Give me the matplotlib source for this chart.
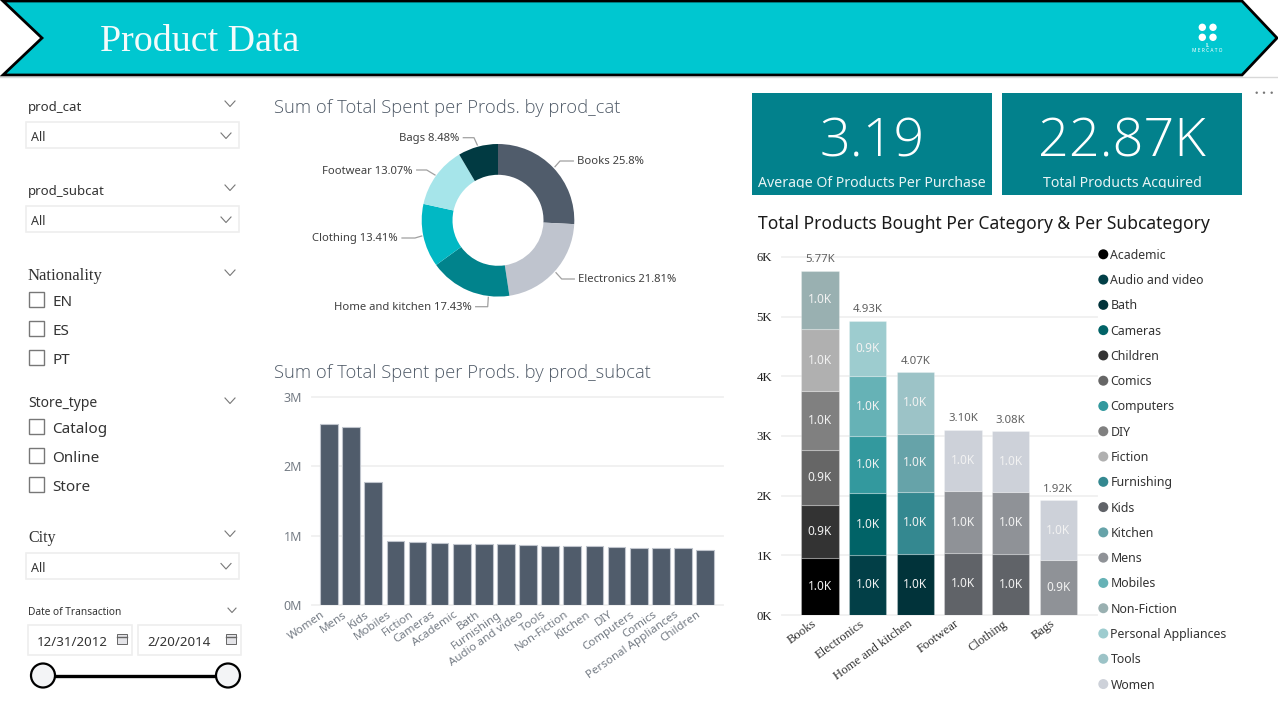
import matplotlib
matplotlib.use("Agg")
import matplotlib.pyplot as plt
from matplotlib.patches import Circle, Polygon, Rectangle
from matplotlib.transforms import ScaledTranslation

W, H = 1278, 717
SANS = ["Noto Sans", "DejaVu Sans"]
SERIF = "Liberation Serif"
plt.rcParams["font.family"] = SANS

# donut
pie_cats = ["Books", "Electronics", "Home and kitchen", "Clothing", "Footwear", "Bags"]
pie_pct = [25.8, 21.81, 17.43, 13.41, 13.07, 8.48]
pie_colors = ["#505c6b", "#bfc4ce", "#01838c", "#01b8c4", "#a6e5ea", "#013a42"]

# spend per subcategory
sub_names = ["Women", "Mens", "Kids", "Mobiles", "Fiction", "Cameras", "Academic", "Bath",
             "Furnishing", "Audio and video", "Tools", "Non-Fiction", "Kitchen", "DIY",
             "Computers", "Comics", "Personal Appliances", "Children"]
sub_spent = [2.606, 2.57, 1.77, 0.918, 0.915, 0.90, 0.885, 0.88, 0.875, 0.865,
             0.855, 0.855, 0.85, 0.84, 0.825, 0.82, 0.815, 0.80]

# stacked bars, bottom to top
stack_cats = ["Books", "Electronics", "Home and kitchen", "Footwear", "Clothing", "Bags"]
books_subs = ["Academic", "Children", "Comics", "DIY", "Fiction", "Non-Fiction"]
books_vals = [0.96, 0.88, 0.93, 0.98, 1.04, 0.98]
electronics_subs = ["Audio and video", "Cameras", "Computers", "Mobiles", "Personal Appliances"]
electronics_vals = [1.01, 1.03, 0.96, 1.00, 0.93]
home_subs = ["Bath", "Furnishing", "Kitchen", "Tools"]
home_vals = [1.03, 1.03, 0.98, 1.03]
footwear_subs = ["Kids", "Mens", "Women"]
footwear_vals = [1.04, 1.03, 1.03]
clothing_subs = ["Kids", "Mens", "Women"]
clothing_vals = [1.03, 1.03, 1.02]
bags_subs = ["Mens", "Women"]
bags_vals = [0.92, 1.00]

legend_names = ["Academic", "Audio and video", "Bath", "Cameras", "Children", "Comics",
                "Computers", "DIY", "Fiction", "Furnishing", "Kids", "Kitchen", "Mens",
                "Mobiles", "Non-Fiction", "Personal Appliances", "Tools", "Women"]
legend_colors = ["#000000", "#023f47", "#01333a", "#016367", "#333333", "#666666",
                 "#33999e", "#808080", "#b0b0b0", "#348890", "#606368", "#66a3a9",
                 "#8f9297", "#66b2b6", "#99b0b1", "#9dcccf", "#9cc3c7", "#cdd1d9"]

stack_subs = [books_subs, electronics_subs, home_subs, footwear_subs, clothing_subs, bags_subs]
stack_vals = [books_vals, electronics_vals, home_vals, footwear_vals, clothing_vals, bags_vals]
sub_color = dict(zip(legend_names, legend_colors))


def px_axes(left, top, right, bottom):
    return fig.add_axes([left / W, 1 - bottom / H, (right - left) / W, (bottom - top) / H])


def chevron(x, y, size=5.0):
    bg.plot([x - size, x, x + size], [y - size * 0.6, y + size * 0.5, y - size * 0.6],
            color="#777777", lw=0.8)


def box(x0, y0, x1, y1, edge="#eeeeee", lw=1.2):
    bg.add_patch(Rectangle((x0, y0), x1 - x0, y1 - y0, fc="white", ec=edge, lw=lw))


fig = plt.figure(figsize=(W / 100, H / 100), dpi=100, facecolor="white")
bg = fig.add_axes([0, 0, 1, 1])
bg.set_xlim(0, W)
bg.set_ylim(H, 0)
bg.axis("off")

# banner
bg.plot([0, W], [77, 77], color="#d8d8d8", lw=1)
bg.add_patch(Polygon([(3, 1), (1242, 1), (1277, 38), (1242, 75), (3, 75), (42, 38)],
                     closed=True, fc="#00c7d0", ec="black", lw=2))
bg.text(100, 41.5, "Product Data", color="#f4fbfb", fontsize=27.3, family=SERIF, va="center")
for lx in [1202.3, 1213]:
    for ly in [27.3, 37.3]:
        bg.add_patch(Circle((lx, ly), 3.7, fc="white", ec="none"))
bg.text(1207.5, 45.5, "IL", color="white", fontsize=3.5, ha="center", va="center")
bg.text(1207.5, 50.5, "M E R C A T O", color="white", fontsize=3.5, ha="center", va="center")
for dx in [1256.7, 1264, 1271.7]:
    bg.add_patch(Circle((dx, 92.7), 1.2, fc="#777777", ec="none"))

# slicers
for label, y in [("prod_cat", 107.5), ("prod_subcat", 191.5)]:
    bg.text(28, y, label, color="#333333", fontsize=9.5, va="center")
for y0, y1 in [(122, 148), (206, 232), (552.5, 578.5)]:
    box(25.5, y0, 239, y1)
    bg.text(31, (y0 + y1) / 2 + 2.5, "All", color="#333333", fontsize=9, va="center")
    chevron(226, (y0 + y1) / 2 + 1)
for y in [104, 188, 273, 401, 534]:
    chevron(230, y)
chevron(232, 610.5, 4)
bg.text(28, 276, "Nationality", color="#333333", fontsize=12, family=SERIF, va="center")
bg.text(28, 403.5, "Store_type", color="#333333", fontsize=10, va="center")
bg.text(28, 538, "City", color="#333333", fontsize=11.5, family=SERIF, va="center")
bg.text(28, 612.5, "Date of Transaction", color="#333333", fontsize=7.3, va="center")
for label, y in [("EN", 300), ("ES", 328.7), ("PT", 358),
                 ("Catalog", 426.7), ("Online", 455.7), ("Store", 484.7)]:
    bg.add_patch(Rectangle((28.5, y - 8), 15, 15, fc="white", ec="#777777", lw=1))
    bg.text(52, y + 2.5, label, color="#333333", fontsize=11, va="center")
for x0, x1, label, tx in [(28, 131.5, "12/31/2012", 37), (137.5, 241, "2/20/2014", 147)]:
    box(x0, 625, x1, 655.3)
    bg.text(tx, 642, label, color="#333333", fontsize=9.6, va="center")
    bg.add_patch(Rectangle((x1 - 15, 633.5), 10, 10, fc="#e4e4e8", ec="#666666", lw=0.7))
    bg.plot([x1 - 15, x1 - 5], [636.5, 636.5], color="#666666", lw=1)
bg.plot([43, 228], [675.5, 675.5], color="black", lw=2.4)
for cx in [43, 228]:
    bg.add_patch(Circle((cx, 675.5), 12, fc="#f3f4f6", ec="black", lw=1.6, zorder=4))

# titles
title_color = "#505b68"
bg.text(274, 108, "Sum of Total Spent per Prods. by prod_cat", color=title_color, fontsize=13.25,
        family="Open Sans", weight="light", va="center")
bg.text(274, 373, "Sum of Total Spent per Prods. by prod_subcat", color=title_color, fontsize=13.25,
        family="Open Sans", weight="light", va="center")
bg.text(758, 224, "Total Products Bought Per Category & Per Subcategory", color="#1a1a1a", fontsize=12.55, va="center")

# KPI tiles
tiles = [(752, 992, "3.19", "Average Of Products Per Purchase"),
         (1002, 1242, f"{sum(map(sum, stack_vals)):.2f}K", "Total Products Acquired")]
for x0, x1, big, small in tiles:
    bg.add_patch(Rectangle((x0, 93), x1 - x0, 101.5, fc="#02818c", ec="none", zorder=1))
    bg.text((x0 + x1) / 2, 143, big, color="white", fontsize=39, family="Open Sans", weight="light",
            ha="center", va="center", zorder=2)
    bg.text((x0 + x1) / 2, 183.5, small, color="#e8f4f5", fontsize=10.2, ha="center", va="center", zorder=2)
    bg.add_patch(Rectangle((x0, 188), x1 - x0, 5, fc="#02818c", ec="none", zorder=3))

# donut
cx, cy, r_out, r_in = 498, 220.3, 76.3, 45.5
half = 100
ax_pie = px_axes(cx - half, cy - half, cx + half, cy + half)
ax_pie.pie(pie_pct, colors=pie_colors, startangle=90, counterclock=False, radius=r_out,
           wedgeprops={"width": r_out - r_in, "edgecolor": "none"})
ax_pie.set_xlim(-half, half)
ax_pie.set_ylim(-half, half)
ax_pie.patch.set_alpha(0)

leaders = [[(555, 166.7), (560, 161), (573.3, 161)],
           [(556, 272.7), (561.7, 279), (574.3, 279)],
           [(488.3, 297.3), (487.7, 306.7), (475.7, 306.7)],
           [(421.7, 236), (415, 238), (402, 238)],
           [(435, 175), (426.7, 170), (416.7, 170)],
           [(477.3, 145), (474, 137.7), (463.3, 137.7)]]
for name, pct, pts in zip(pie_cats, pie_pct, leaders):
    bg.plot([p[0] for p in pts], [p[1] for p in pts], color="#a0a0a0", lw=0.9)
    end = pts[-1]
    right_side = end[0] > cx
    bg.text(end[0] + (3.5 if right_side else -4.3), end[1] + 1, f"{name} {pct:g}%", color="#404040", fontsize=8.1,
            ha="left" if right_side else "right", va="center")

# subcategory bars
ax_sub = px_axes(312, 397, 722.7, 605)
ax_sub.bar(range(len(sub_names)), sub_spent, width=0.8, color="#505c6b", edgecolor="#bfc4cc", linewidth=0.8)
ax_sub.set_xlim(-(329 - 312) / 22.12, (722.7 - 329) / 22.12)
ax_sub.set_ylim(0, 3)
ax_sub.set_yticks([0, 1, 2, 3], ["0M", "1M", "2M", "3M"])
ax_sub.set_xticks(range(len(sub_names)), sub_names, rotation=35, ha="right", rotation_mode="anchor", fontsize=8.3)
ax_sub.tick_params(length=0, colors="#757c85")
ax_sub.tick_params(axis="x", pad=3)
ax_sub.tick_params(axis="y", pad=7, labelsize=9)
for lab in ax_sub.get_xticklabels():
    lab.set_transform(lab.get_transform() + ScaledTranslation(-6 / 72, 0, fig.dpi_scale_trans))

# stacked bars
ax_st = px_axes(782, 257, 1097, 615)
bar_pitch = 47.67
for i, (subs, vals) in enumerate(zip(stack_subs, stack_vals)):
    base = 0
    for name, v in zip(subs, vals):
        ax_st.bar(i, v, bottom=base, width=37.3 / bar_pitch, color=sub_color[name],
                  edgecolor=(1, 1, 1, 0.25), linewidth=0.8)
        ax_st.text(i, base + v / 2, f"{v:.1f}K", color="#f2f2f2", fontsize=8.5, ha="center", va="center")
        base += v
    ax_st.text(i, base + 0.185, f"{base:.2f}K", color="#606060", fontsize=8.2, ha="center", va="center")
ax_st.set_xlim(-(820 - 782) / bar_pitch, (1097 - 820) / bar_pitch)
ax_st.set_ylim(0, 6)
ax_st.set_yticks(range(7), [f"{k}K" for k in range(7)], family=SERIF, fontsize=9.2, color="#222222")
ax_st.set_xticks(range(len(stack_cats)), stack_cats, rotation=36, ha="right", rotation_mode="anchor",
                 family=SERIF, fontsize=9.2, color="#333333")
ax_st.tick_params(length=0)
ax_st.tick_params(axis="x", pad=2)
ax_st.tick_params(axis="y", pad=7)
for lab in ax_st.get_xticklabels():
    lab.set_transform(lab.get_transform() + ScaledTranslation(-6 / 72, 0, fig.dpi_scale_trans))

for ax in [ax_sub, ax_st]:
    ax.patch.set_alpha(0)
    for s in ax.spines.values():
        s.set_visible(False)
    ax.yaxis.grid(True, color="#f0f0f0", lw=1.3)
    ax.set_axisbelow(True)
    for g in ax.get_ygridlines():
        g.set_clip_on(False)

# legend
for i, (name, col) in enumerate(zip(legend_names, legend_colors)):
    y = 254.3 + i * 25.28
    bg.add_patch(Circle((1103.3, y), 5, fc=col, ec="none", zorder=3))
    bg.text(1110.5, y + 1, name, color="#333333", fontsize=8.85, va="center", zorder=3)

fig.savefig("out.png", dpi=100)
